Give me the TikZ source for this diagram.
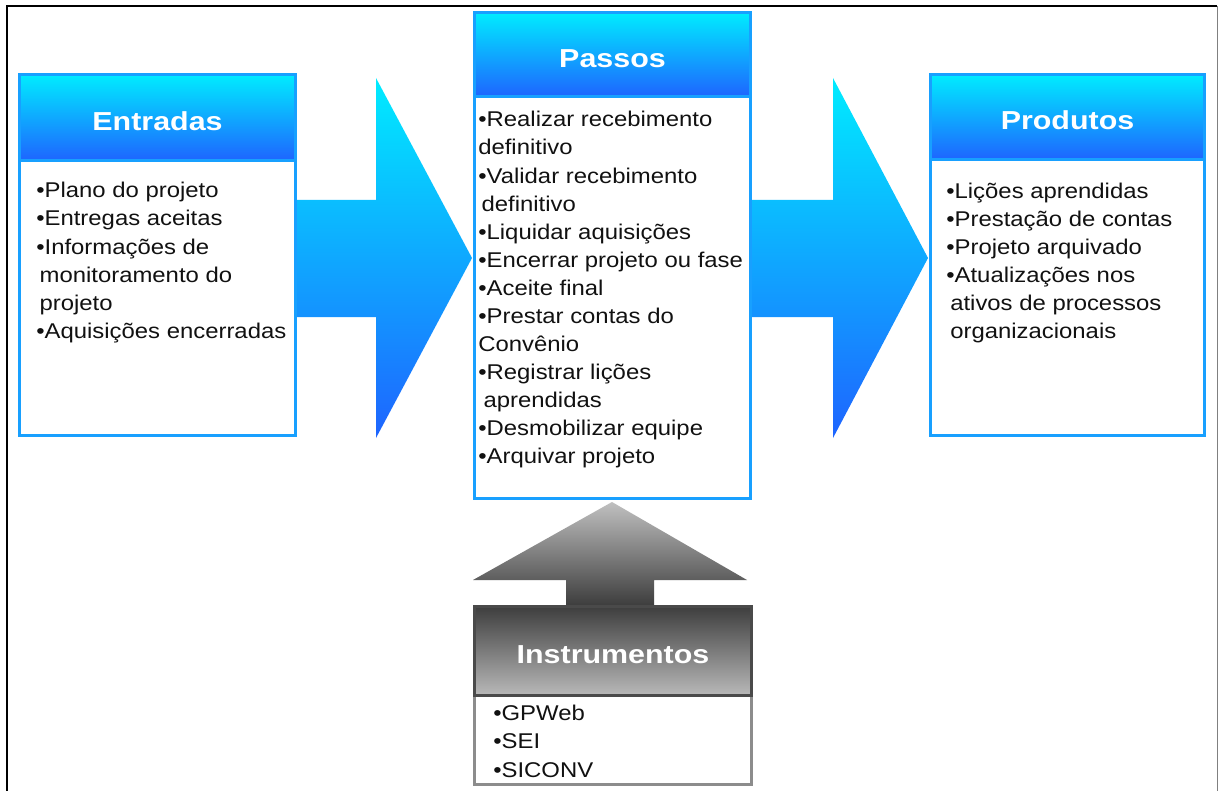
\documentclass[tikz,border=0pt]{standalone}
\usepackage{fontspec}
\setmainfont{Liberation Sans}
\newfontfamily\bodyfont[FakeStretch=1.12]{Liberation Sans}
\newfontfamily\hdrfont[FakeStretch=1.17]{Liberation Sans}
\definecolor{cyanT}{RGB}{0,236,255}
\definecolor{blueB}{RGB}{30,100,255}
\definecolor{bord}{RGB}{24,160,255}
\definecolor{grayTop}{RGB}{192,192,192}
\definecolor{grayBot}{RGB}{58,58,58}
\definecolor{hdrDark}{RGB}{62,62,62}
\definecolor{hdrLight}{RGB}{184,184,184}
\definecolor{hdrBord}{RGB}{74,74,74}
\definecolor{bodyBord}{RGB}{140,140,140}
\definecolor{txt}{RGB}{17,17,17}
\tikzset{
  bluehdr/.style={draw=bord, line width=2.25pt, top color=cyanT, bottom color=blueB,
    text=white, font=\hdrfont\bfseries\fontsize{19.5}{23}\selectfont,
    text height=18.5pt, text depth=0pt,
    inner sep=0pt, outer sep=0pt, anchor=north west},
  bluebody/.style={draw=bord, line width=2.25pt, fill=white, inner sep=0pt,
    outer sep=0pt, anchor=north west},
  grayhdr/.style={draw=hdrBord, line width=2.25pt, top color=hdrDark, bottom color=hdrLight,
    text=white, font=\hdrfont\bfseries\fontsize{19.5}{23}\selectfont,
    text height=18.5pt, text depth=0pt,
    inner sep=0pt, outer sep=0pt, anchor=north west},
  graybody/.style={draw=bodyBord, line width=2.25pt, fill=white, inner sep=0pt,
    outer sep=0pt, anchor=north west},
  bodytext/.style={anchor=north west, inner sep=0pt, align=left, text=txt,
    font=\bodyfont\fontsize{16}{21.05}\selectfont},
  bluearrow/.style={top color=cyanT, bottom color=blueB},
  grayarrow/.style={top color=grayTop, bottom color=grayBot}
}
\begin{document}
\begin{tikzpicture}[x=0.75pt,y=-0.75pt]
\useasboundingbox (0,0) rectangle (1219,791);
\fill[white] (0,0) rectangle (1219,791);
% frame
\draw[line width=1.5pt] (7,791) -- (7,6.5) -- (1217,6.5);
\draw[gray, line width=0.75pt] (1217.5,6) -- (1217.5,791);

% arrows
\shade[bluearrow] (290,200) -- (376,200) -- (376,78) -- (472,258) -- (376,438) -- (376,317) -- (290,317) -- cycle;
\shade[bluearrow] (745,200) -- (833,200) -- (833,78) -- (928,258) -- (833,438) -- (833,317) -- (745,317) -- cycle;
\shade[grayarrow] (612,502) -- (747,580) -- (654,580) -- (654,608) -- (566,608) -- (566,580) -- (473,580) -- cycle;

% Entradas
\node[bluebody, minimum width=207pt, minimum height=205.875pt] (entB) at (19.5,161) {};
\node[bluehdr, minimum width=207pt, minimum height=64.875pt] (entH) at (19.5,74.5) {Entradas};
\node[bodytext] (entT) at (36,178) {\strut•Plano do projeto\\
•Entregas aceitas\\
•Informações de\\
\hspace*{2.5pt}monitoramento do\\
\hspace*{2.5pt}projeto\\
•Aquisições encerradas};

% Passos
\node[bluebody, minimum width=207pt, minimum height=301.125pt] (pasB) at (474.5,97) {};
\node[bluehdr, minimum width=207pt, minimum height=63.375pt] (pasH) at (474.5,12.5) {Passos};
\node[bodytext] (pasT) at (478,107) {\strut•Realizar recebimento\\
definitivo\\
•Validar recebimento\\
\hspace*{2.5pt}definitivo\\
•Liquidar aquisições\\
•Encerrar projeto ou fase\\
•Aceite final\\
•Prestar contas do\\
Convênio\\
•Registrar lições\\
\hspace*{4pt}aprendidas\\
•Desmobilizar equipe\\
•Arquivar projeto};

% Produtos
\node[bluebody, minimum width=205.5pt, minimum height=206.625pt] (proB) at (930.5,160) {};
\node[bluehdr, minimum width=205.5pt, minimum height=64.125pt] (proH) at (930.5,74.5) {Produtos};
\node[bodytext] (proT) at (946,178.4) {\strut•Lições aprendidas\\
•Prestação de contas\\
•Projeto arquivado\\
•Atualizações nos\\
\hspace*{3pt}ativos de processos\\
\hspace*{3pt}organizacionais};

% Instrumentos
\node[graybody, minimum width=207.75pt, minimum height=66.75pt] (insB) at (474.5,695) {};
\node[grayhdr, minimum width=207.75pt, minimum height=66.375pt] (insH) at (474.5,606.5) {Instrumentos};
\node[bodytext] (insT) at (493,701) {\strut•GPWeb\\
•SEI\\
•SICONV};
\end{tikzpicture}
\end{document}
